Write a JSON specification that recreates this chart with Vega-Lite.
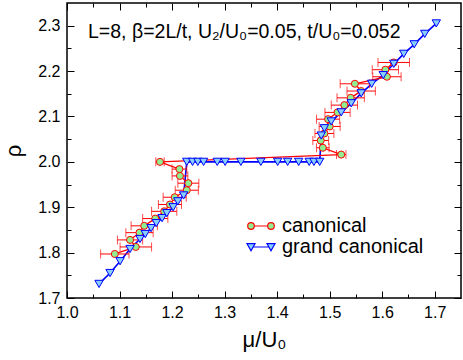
{
  "$schema": "https://vega.github.io/schema/vega-lite/v6.json",
  "width": 394,
  "height": 295,
  "autosize": {"type": "none"},
  "padding": {"left": 67, "top": 3, "right": 2, "bottom": 62},
  "background": "white",
  "config": {
    "font": "Liberation Sans",
    "view": {"stroke": "black", "strokeWidth": 1.5},
    "axis": {
      "domain": false, "grid": false,
      "labelFont": "Liberation Sans", "labelFontSize": 16, "labelColor": "black",
      "titleFont": "Liberation Sans", "titleFontWeight": "normal", "titleColor": "black", "titleFontSize": 22,
      "tickColor": "black", "tickWidth": 1
    },
    "legend": {
      "orient": "none", "legendX": 183, "legendY": 212,
      "labelFont": "Liberation Sans", "labelFontSize": 20, "labelColor": "black",
      "symbolSize": 400, "labelOffset": 10, "padding": 0, "rowPadding": 0,
      "symbolStrokeWidth": 1.2, "symbolOpacity": 1
    }
  },
  "datasets": {
    "canonical": [
      {"series": "canonical", "n": 115, "rho": 1.797, "mu": 1.091, "err": 0.027},
      {"series": "canonical", "n": 116, "rho": 1.8125, "mu": 1.131, "err": 0.030},
      {"series": "canonical", "n": 117, "rho": 1.828, "mu": 1.120, "err": 0.024},
      {"series": "canonical", "n": 118, "rho": 1.844, "mu": 1.138, "err": 0.026},
      {"series": "canonical", "n": 119, "rho": 1.859, "mu": 1.147, "err": 0.025},
      {"series": "canonical", "n": 120, "rho": 1.875, "mu": 1.168, "err": 0.024},
      {"series": "canonical", "n": 121, "rho": 1.891, "mu": 1.185, "err": 0.024},
      {"series": "canonical", "n": 122, "rho": 1.906, "mu": 1.196, "err": 0.022},
      {"series": "canonical", "n": 123, "rho": 1.922, "mu": 1.205, "err": 0.022},
      {"series": "canonical", "n": 124, "rho": 1.9375, "mu": 1.228, "err": 0.022},
      {"series": "canonical", "n": 125, "rho": 1.953, "mu": 1.231, "err": 0.020},
      {"series": "canonical", "n": 126, "rho": 1.969, "mu": 1.215, "err": 0.015},
      {"series": "canonical", "n": 127, "rho": 1.984, "mu": 1.214, "err": 0.014},
      {"series": "canonical", "n": 128, "rho": 2.0, "mu": 1.177, "err": 0.008},
      {"series": "canonical", "n": 129, "rho": 2.016, "mu": 1.522, "err": 0.009},
      {"series": "canonical", "n": 130, "rho": 2.031, "mu": 1.487, "err": 0.012},
      {"series": "canonical", "n": 131, "rho": 2.047, "mu": 1.483, "err": 0.015},
      {"series": "canonical", "n": 132, "rho": 2.0625, "mu": 1.490, "err": 0.018},
      {"series": "canonical", "n": 133, "rho": 2.078, "mu": 1.500, "err": 0.020},
      {"series": "canonical", "n": 134, "rho": 2.094, "mu": 1.497, "err": 0.022},
      {"series": "canonical", "n": 135, "rho": 2.109, "mu": 1.515, "err": 0.024},
      {"series": "canonical", "n": 136, "rho": 2.125, "mu": 1.528, "err": 0.025},
      {"series": "canonical", "n": 137, "rho": 2.141, "mu": 1.540, "err": 0.026},
      {"series": "canonical", "n": 138, "rho": 2.156, "mu": 1.560, "err": 0.027},
      {"series": "canonical", "n": 139, "rho": 2.172, "mu": 1.548, "err": 0.028},
      {"series": "canonical", "n": 140, "rho": 2.1875, "mu": 1.609, "err": 0.027},
      {"series": "canonical", "n": 141, "rho": 2.203, "mu": 1.606, "err": 0.025},
      {"series": "canonical", "n": 142, "rho": 2.219, "mu": 1.622, "err": 0.030}
    ],
    "grand": [
      {"series": "grand canonical", "i": 1, "mu": 1.061, "rho": 1.731},
      {"series": "grand canonical", "i": 2, "mu": 1.082, "rho": 1.755},
      {"series": "grand canonical", "i": 3, "mu": 1.101, "rho": 1.781},
      {"series": "grand canonical", "i": 4, "mu": 1.120, "rho": 1.808},
      {"series": "grand canonical", "i": 5, "mu": 1.139, "rho": 1.830},
      {"series": "grand canonical", "i": 6, "mu": 1.149, "rho": 1.841},
      {"series": "grand canonical", "i": 7, "mu": 1.160, "rho": 1.854},
      {"series": "grand canonical", "i": 8, "mu": 1.170, "rho": 1.865},
      {"series": "grand canonical", "i": 9, "mu": 1.181, "rho": 1.876},
      {"series": "grand canonical", "i": 10, "mu": 1.190, "rho": 1.887},
      {"series": "grand canonical", "i": 11, "mu": 1.202, "rho": 1.900},
      {"series": "grand canonical", "i": 12, "mu": 1.211, "rho": 1.913},
      {"series": "grand canonical", "i": 13, "mu": 1.222, "rho": 1.926},
      {"series": "grand canonical", "i": 14, "mu": 1.228, "rho": 2.0},
      {"series": "grand canonical", "i": 15, "mu": 1.239, "rho": 2.0},
      {"series": "grand canonical", "i": 16, "mu": 1.249, "rho": 2.0},
      {"series": "grand canonical", "i": 17, "mu": 1.260, "rho": 2.0},
      {"series": "grand canonical", "i": 18, "mu": 1.286, "rho": 2.0},
      {"series": "grand canonical", "i": 19, "mu": 1.301, "rho": 2.0},
      {"series": "grand canonical", "i": 20, "mu": 1.331, "rho": 2.0},
      {"series": "grand canonical", "i": 21, "mu": 1.369, "rho": 2.0},
      {"series": "grand canonical", "i": 22, "mu": 1.401, "rho": 2.0},
      {"series": "grand canonical", "i": 23, "mu": 1.420, "rho": 2.0},
      {"series": "grand canonical", "i": 24, "mu": 1.441, "rho": 2.0},
      {"series": "grand canonical", "i": 25, "mu": 1.461, "rho": 2.0},
      {"series": "grand canonical", "i": 26, "mu": 1.470, "rho": 2.0},
      {"series": "grand canonical", "i": 27, "mu": 1.481, "rho": 2.0},
      {"series": "grand canonical", "i": 28, "mu": 1.484, "rho": 2.058},
      {"series": "grand canonical", "i": 29, "mu": 1.490, "rho": 2.074},
      {"series": "grand canonical", "i": 30, "mu": 1.503, "rho": 2.089},
      {"series": "grand canonical", "i": 31, "mu": 1.522, "rho": 2.109},
      {"series": "grand canonical", "i": 32, "mu": 1.541, "rho": 2.129},
      {"series": "grand canonical", "i": 33, "mu": 1.560, "rho": 2.151},
      {"series": "grand canonical", "i": 34, "mu": 1.580, "rho": 2.172},
      {"series": "grand canonical", "i": 35, "mu": 1.602, "rho": 2.191},
      {"series": "grand canonical", "i": 36, "mu": 1.622, "rho": 2.216},
      {"series": "grand canonical", "i": 37, "mu": 1.641, "rho": 2.238},
      {"series": "grand canonical", "i": 38, "mu": 1.661, "rho": 2.259},
      {"series": "grand canonical", "i": 39, "mu": 1.681, "rho": 2.282},
      {"series": "grand canonical", "i": 40, "mu": 1.703, "rho": 2.305}
    ],
    "note": [
      {"label": "L=8, β=2L/t, U₂/U₀=0.05, t/U₀=0.052", "mu": 1.04, "rho": 2.2735}
    ]
  },
  "layer": [
    {
      "data": {"name": "grand"},
      "mark": {"type": "line", "strokeWidth": 1.6, "color": "#0000ff"},
      "encoding": {
        "x": {"field": "mu", "type": "quantitative", "scale": {"domain": [1.0, 1.75], "nice": false, "zero": false},
          "title": "μ/U₀",
          "axis": {"orient": "bottom", "values": [1.0, 1.05, 1.1, 1.15, 1.2, 1.25, 1.3, 1.35, 1.4, 1.45, 1.5, 1.55, 1.6, 1.65, 1.7],
            "labelExpr": "abs(datum.value*10 - round(datum.value*10)) < 0.001 ? format(datum.value, '.1f') : ''",
            "tickSize": {"condition": {"test": "abs(datum.value*10 - round(datum.value*10)) < 0.001", "value": -7}, "value": -4},
            "labelPadding": 13, "titlePadding": 9, "labelFlush": false}},
        "y": {"field": "rho", "type": "quantitative", "scale": {"domain": [1.7, 2.35], "nice": false, "zero": false},
          "title": "ρ",
          "axis": {"orient": "left", "values": [1.7, 1.75, 1.8, 1.85, 1.9, 1.95, 2.0, 2.05, 2.1, 2.15, 2.2, 2.25, 2.3],
            "labelExpr": "abs(datum.value*10 - round(datum.value*10)) < 0.001 ? format(datum.value, '.1f') : ''",
            "tickSize": {"condition": {"test": "abs(datum.value*10 - round(datum.value*10)) < 0.001", "value": -7}, "value": -4},
            "labelPadding": 14, "titlePadding": 12, "labelFlush": false}},
        "order": {"field": "i", "type": "quantitative"}
      }
    },
    {
      "data": {"name": "canonical"},
      "mark": {"type": "errorbar", "ticks": {"size": 9}, "color": "#ff0000", "thickness": 1},
      "encoding": {
        "x": {"field": "mu", "type": "quantitative", "scale": {"domain": [1.0, 1.75], "nice": false, "zero": false}, "axis": null},
        "xError": {"field": "err"},
        "y": {"field": "rho", "type": "quantitative", "scale": {"domain": [1.7, 2.35], "nice": false, "zero": false}, "axis": null}
      }
    },
    {
      "data": {"name": "canonical"},
      "mark": {"type": "line", "strokeWidth": 1.3, "color": "#ff0000"},
      "encoding": {
        "x": {"field": "mu", "type": "quantitative", "scale": {"domain": [1.0, 1.75], "nice": false, "zero": false}, "axis": null},
        "y": {"field": "rho", "type": "quantitative", "scale": {"domain": [1.7, 2.35], "nice": false, "zero": false}, "axis": null},
        "order": {"field": "n", "type": "quantitative"}
      }
    },
    {
      "data": {"name": "canonical"},
      "mark": {"type": "point", "shape": "circle", "filled": false, "fill": "#90ee90", "fillOpacity": 1, "stroke": "#ff0000", "strokeWidth": 1, "size": 50, "opacity": 1},
      "encoding": {
        "x": {"field": "mu", "type": "quantitative", "scale": {"domain": [1.0, 1.75], "nice": false, "zero": false}, "axis": null},
        "y": {"field": "rho", "type": "quantitative", "scale": {"domain": [1.7, 2.35], "nice": false, "zero": false}, "axis": null}
      }
    },
    {
      "data": {"name": "grand"},
      "mark": {"type": "point", "shape": "triangle-down", "filled": false, "fill": "#87cefa", "fillOpacity": 1, "stroke": "#0000ff", "strokeWidth": 1, "size": 70, "opacity": 1},
      "encoding": {
        "x": {"field": "mu", "type": "quantitative", "scale": {"domain": [1.0, 1.75], "nice": false, "zero": false}, "axis": null},
        "y": {"field": "rho", "type": "quantitative", "scale": {"domain": [1.7, 2.35], "nice": false, "zero": false}, "axis": null}
      }
    },
    {
      "data": {"name": "canonical"},
      "transform": [{"filter": "false"}],
      "mark": {"type": "point", "filled": false, "fillOpacity": 1, "strokeWidth": 1.2},
      "encoding": {
        "x": {"field": "mu", "type": "quantitative", "scale": {"domain": [1.0, 1.75], "nice": false, "zero": false}, "axis": null},
        "y": {"field": "rho", "type": "quantitative", "scale": {"domain": [1.7, 2.35], "nice": false, "zero": false}, "axis": null},
        "color": {"field": "series", "type": "nominal", "scale": {"domain": ["canonical", "grand canonical"], "range": ["#ff0000", "#0000ff"]}, "legend": {"title": null}},
        "fill": {"field": "series", "type": "nominal", "scale": {"domain": ["canonical", "grand canonical"], "range": ["#90ee90", "#87cefa"]}, "legend": {"title": null}},
        "shape": {"field": "series", "type": "nominal", "scale": {"domain": ["canonical", "grand canonical"], "range": [
          "M-1.33,0a0.33,0.33 0 1,0 0.66,0a0.33,0.33 0 1,0 -0.66,0Z M-0.67,0L0.67,0 M0.67,0a0.33,0.33 0 1,0 0.66,0a0.33,0.33 0 1,0 -0.66,0Z",
          "M-1.4,-0.33L-0.6,-0.33L-1,0.37Z M-0.75,0L0.75,0 M0.6,-0.33L1.4,-0.33L1,0.37Z"
        ]}, "legend": {"title": null}}
      }
    },
    {
      "data": {"name": "note"},
      "mark": {"type": "text", "align": "left", "baseline": "alphabetic", "fontSize": 19.5, "font": "Liberation Sans", "color": "black"},
      "encoding": {
        "x": {"field": "mu", "type": "quantitative", "scale": {"domain": [1.0, 1.75], "nice": false, "zero": false},
          "axis": {"orient": "top", "title": null, "labels": false,
            "values": [1.0, 1.05, 1.1, 1.15, 1.2, 1.25, 1.3, 1.35, 1.4, 1.45, 1.5, 1.55, 1.6, 1.65, 1.7],
            "tickSize": {"condition": {"test": "abs(datum.value*10 - round(datum.value*10)) < 0.001", "value": -7}, "value": -4}}},
        "y": {"field": "rho", "type": "quantitative", "scale": {"domain": [1.7, 2.35], "nice": false, "zero": false},
          "axis": {"orient": "right", "title": null, "labels": false,
            "values": [1.7, 1.75, 1.8, 1.85, 1.9, 1.95, 2.0, 2.05, 2.1, 2.15, 2.2, 2.25, 2.3],
            "tickSize": {"condition": {"test": "abs(datum.value*10 - round(datum.value*10)) < 0.001", "value": -7}, "value": -4}}},
        "text": {"field": "label", "type": "nominal"}
      }
    }
  ],
  "resolve": {"axis": {"x": "independent", "y": "independent"}}
}
